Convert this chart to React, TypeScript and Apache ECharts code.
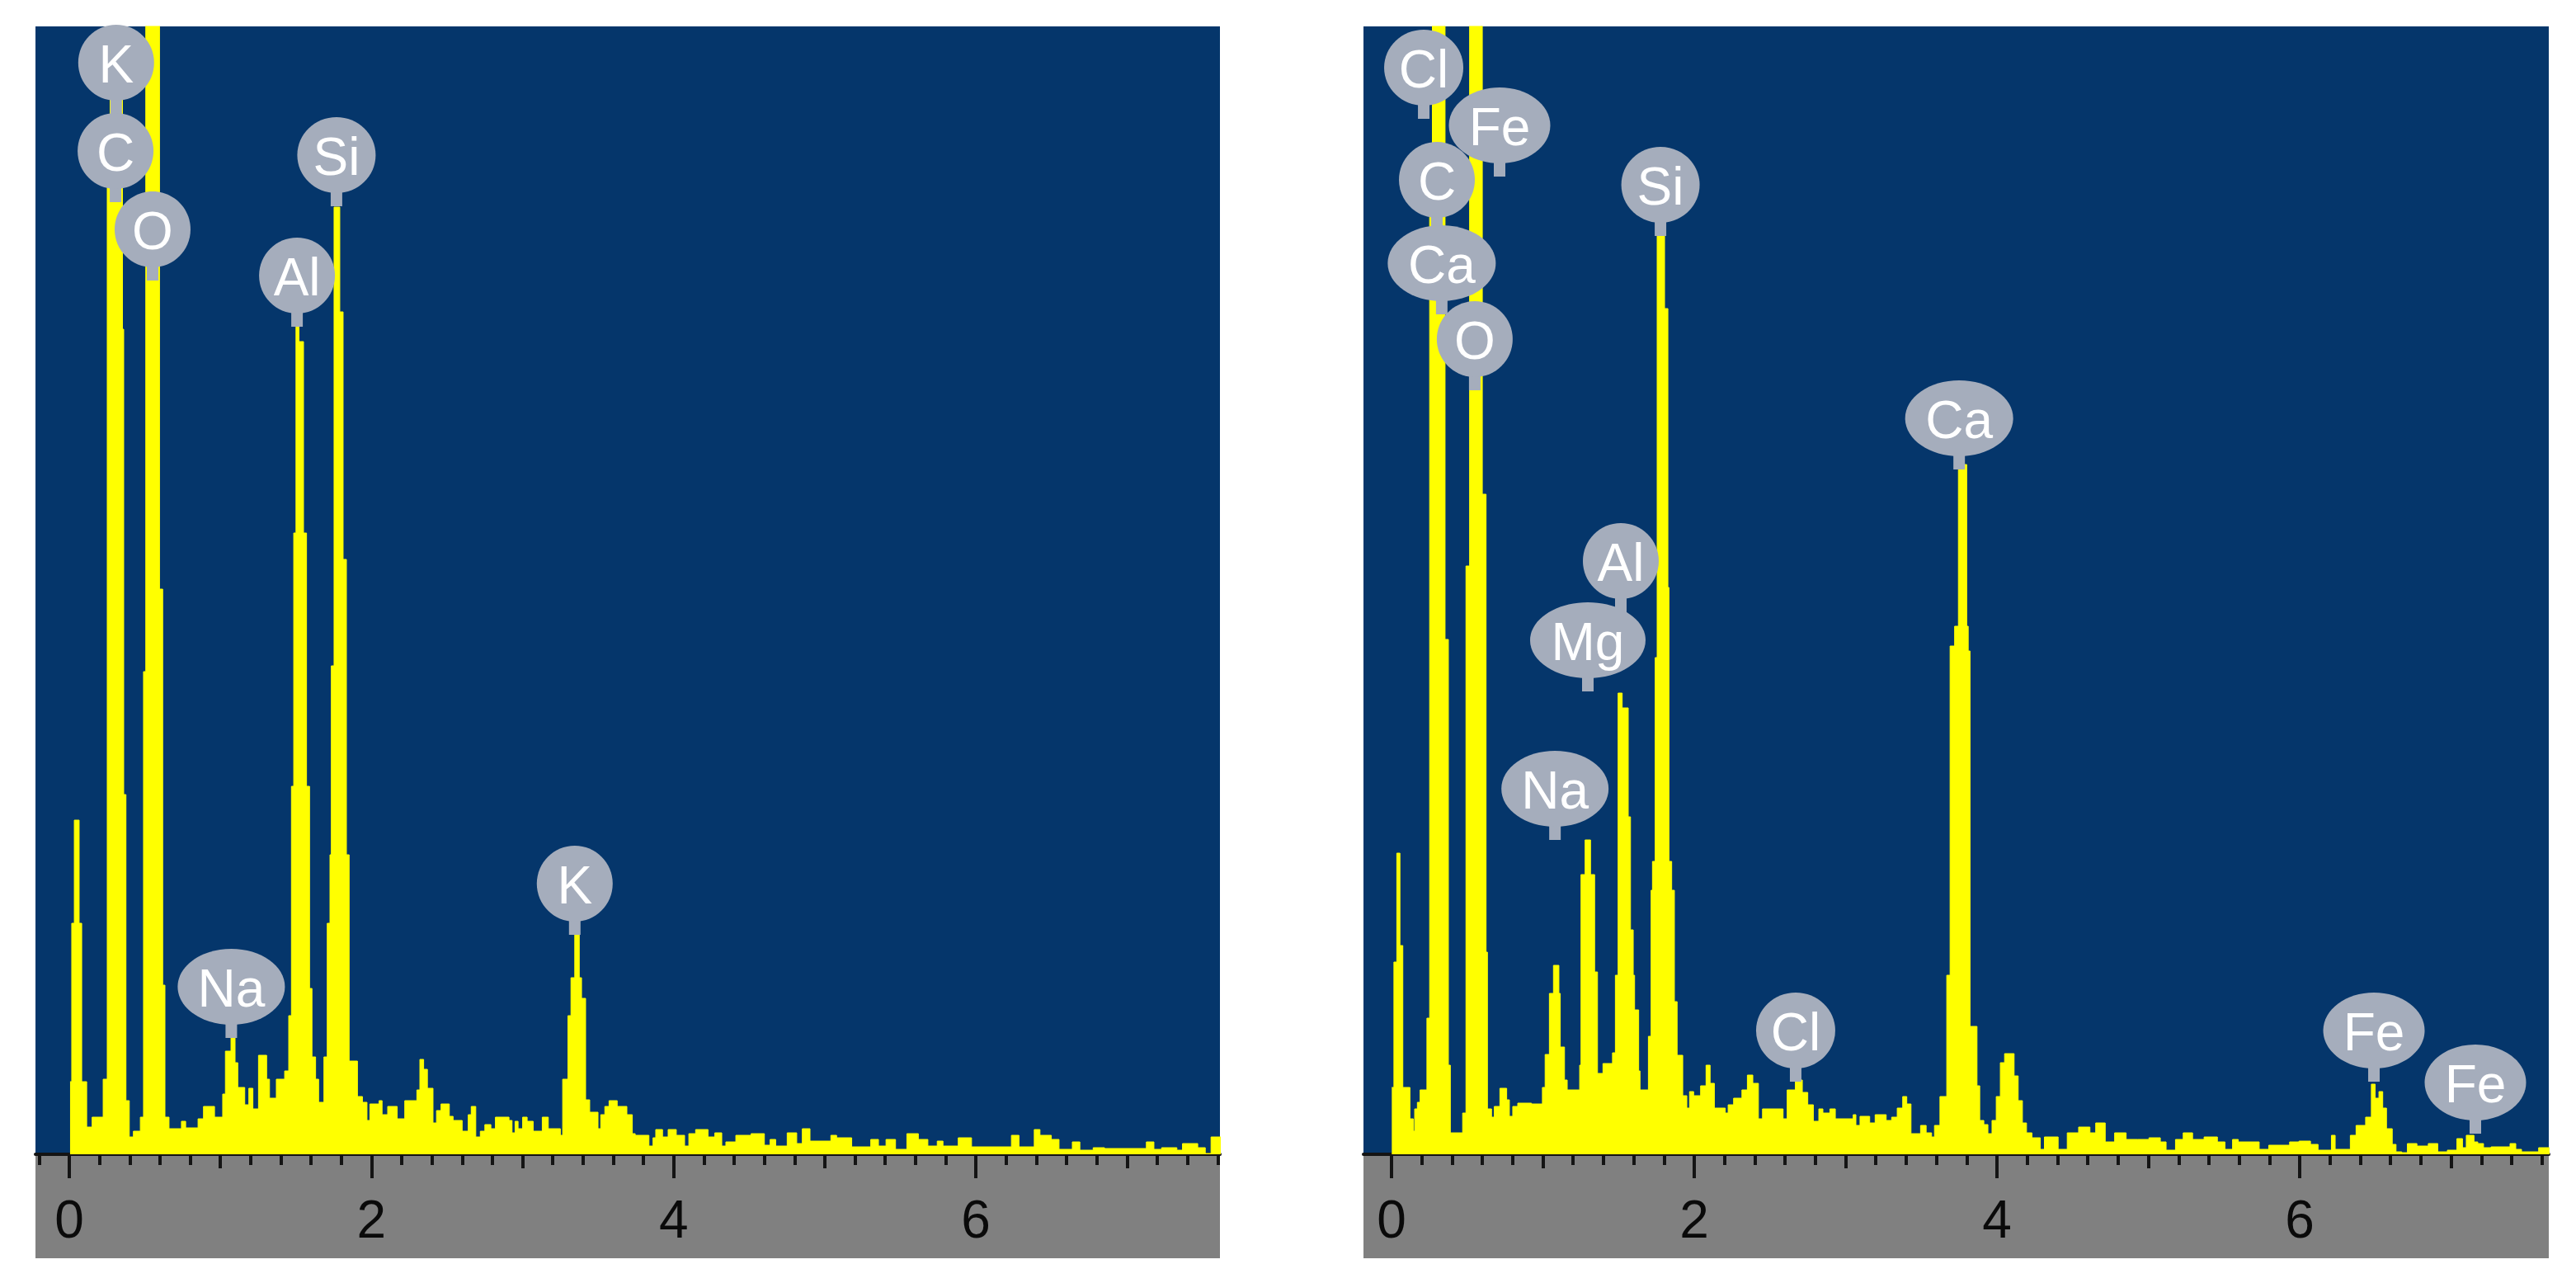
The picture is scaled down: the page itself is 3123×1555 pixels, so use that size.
import React, { useEffect, useRef } from "react";
import * as echarts from "echarts";

// [energy keV, intensity]. Each level holds until the next energy.
const spectrumLeft: number[][] = [
  [0.005,88],[0.016,280],[0.033,405],[0.065,280],[0.082,88],[0.115,33],[0.151,45],[0.224,91],[0.251,1200],[0.27,1500],[0.352,1000],[0.36,436],[0.375,65],[0.397,21],[0.424,28],[0.47,45],[0.491,585],[0.506,1500],[0.597,685],[0.618,205],[0.633,45],
  [0.66,31],[0.742,40],[0.77,32],[0.852,43],[0.888,58],[0.961,45],[1.015,73],[1.033,125],[1.07,143],[1.097,111],[1.115,81],[1.161,60],[1.188,80],[1.215,55],[1.252,120],[1.306,91],[1.325,68],[1.37,91],[1.425,101],[1.452,168],
  [1.47,446],[1.485,753],[1.5,1010],[1.52,985],[1.55,753],[1.57,446],[1.59,201],[1.606,118],[1.63,91],[1.65,63],[1.685,118],[1.707,280],[1.725,363],[1.734,592],[1.752,1148],[1.79,1021],[1.812,721],[1.834,363],[1.852,113],[1.907,70],[1.94,63],[1.97,41],[1.989,61],[2.05,65],[2.07,48],[2.107,58],
  [2.17,43],[2.22,65],[2.3,78],[2.32,115],[2.345,103],[2.37,80],[2.407,38],[2.43,53],[2.46,61],[2.515,46],[2.54,41],[2.6,28],[2.64,48],[2.66,58],[2.69,21],[2.72,28],[2.75,36],[2.79,31],[2.82,45],[2.91,41],[2.93,26],[2.95,40],[2.97,31],[3.0,45],[3.03,40],[3.07,28],[3.13,45],[3.17,31],[3.25,23],
  [3.265,91],[3.3,168],[3.32,214],[3.345,270],[3.375,214],[3.39,189],[3.417,66],[3.444,51],[3.499,31],[3.517,48],[3.544,58],[3.572,65],[3.626,58],[3.69,48],[3.726,25],[3.745,23],[3.836,10],[3.863,20],[3.881,30],[3.926,21],[3.963,30],[4.017,23],[4.072,10],[4.1,25],[4.145,30],[4.227,21],[4.272,26],[4.318,10],[4.345,15],
  [4.411,23],[4.512,25],[4.6,11],[4.638,18],[4.675,10],[4.751,26],[4.814,13],[4.851,31],[4.902,16],[5.04,23],[5.078,20],[5.178,9],[5.304,18],[5.355,10],[5.405,18],[5.468,6],[5.543,25],[5.619,18],[5.682,10],[5.744,16],[5.782,10],[5.883,20],[5.971,9],[6.235,23],[6.285,9],[6.386,30],[6.424,23],[6.499,18],[6.55,6],[6.638,15],[6.688,5],[6.776,8],[6.851,7],[7.128,15],[7.178,6],[7.229,8],[7.33,5],[7.367,13],[7.468,8],[7.518,1],[7.556,21],[7.65,21],
];
const spectrumRight: number[][] = [
  [0.002,81],[0.016,233],[0.035,365],[0.056,253],[0.075,81],[0.122,43],[0.144,28],[0.153,55],[0.171,63],[0.189,78],[0.234,165],[0.252,1200],[0.27,1500],[0.354,624],[0.376,108],[0.389,26],[0.47,50],[0.492,713],[0.516,1500],[0.6,800],[0.625,245],[0.634,55],
  [0.661,45],[0.679,58],[0.716,80],[0.761,66],[0.779,46],[0.801,58],[0.834,62],[0.925,61],[0.997,81],[1.015,121],[1.043,195],[1.07,229],[1.106,195],[1.115,130],[1.143,90],[1.161,78],[1.243,108],[1.252,339],[1.279,381],[1.315,339],[1.342,221],[1.361,98],[1.397,110],[1.46,123],[1.479,217],
  [1.497,559],[1.524,541],[1.564,409],[1.579,272],[1.597,217],[1.606,175],[1.633,101],[1.642,78],[1.697,143],[1.715,320],[1.724,355],[1.742,602],[1.755,1125],[1.804,1025],[1.826,687],[1.833,355],[1.851,320],[1.869,185],[1.887,120],[1.924,71],[1.951,56],[1.969,76],[1.996,71],[2.042,83],[2.078,108],[2.105,86],[2.133,56],
  [2.205,50],[2.224,60],[2.26,68],[2.315,78],[2.351,96],[2.387,86],[2.424,43],[2.451,55],[2.587,43],[2.614,78],[2.668,90],[2.714,75],[2.75,60],[2.787,40],[2.823,55],[2.85,50],[2.896,55],[2.932,43],[3.05,48],[3.068,35],[3.095,46],[3.159,38],[3.195,48],[3.268,41],[3.304,45],[3.341,56],[3.377,70],[3.404,61],[3.432,25],[3.495,35],[3.532,26],[3.568,21],[3.587,35],[3.623,70],
  [3.668,217],[3.69,616],[3.72,640],[3.745,836],[3.8,640],[3.81,610],[3.822,155],[3.868,83],[3.886,41],[3.913,36],[3.94,25],[3.967,41],[3.995,70],[4.022,111],[4.05,122],[4.113,95],[4.14,65],[4.168,38],[4.195,26],[4.231,20],[4.286,6],[4.313,21],[4.404,6],
  [4.464,26],[4.539,33],[4.614,26],[4.652,38],[4.715,15],[4.777,26],[4.853,18],[4.928,18],[5.004,20],[5.079,15],[5.117,5],[5.179,18],[5.23,26],[5.292,18],[5.368,21],[5.456,15],[5.506,6],[5.556,18],[5.594,15],[5.732,6],[5.795,11],[5.933,15],[5.995,16],[6.071,12],[6.121,5],[6.209,23],[6.234,6],[6.334,23],[6.372,35],[6.435,45],[6.473,85],[6.498,68],[6.523,76],[6.548,56],[6.573,31],[6.611,12],[6.636,3],[6.674,2],[6.711,13],[6.774,10],[6.849,13],[6.912,3],[6.975,5],[7.038,19],[7.075,8],[7.1,23],[7.151,15],[7.176,13],[7.214,8],[7.264,9],[7.389,13],[7.427,6],[7.465,3],[7.578,8],[7.65,8],
];

// Element labels: name, line energy (keV), height of the pin's tip.
const labelNamesLeft = ["K", "C", "O", "Al", "Si", "Na", "K"];
const labelEnergyLeft = [0.31, 0.306, 0.551, 1.507, 1.768, 1.072, 3.345];
const labelHeightLeft = [1261, 1154, 1059, 1003, 1149, 141, 266];
const labelNamesRight = ["Cl", "Fe", "C", "Ca", "O", "Si", "Ca", "Al", "Mg", "Na", "Cl", "Fe", "Fe"];
const labelEnergyRight = [0.213, 0.714, 0.3, 0.332, 0.55, 1.777, 3.75, 1.515, 1.297, 1.08, 2.67, 6.49, 7.16];
const labelHeightRight = [1255, 1185, 1119, 1018, 926, 1113, 830, 657, 561, 381, 88, 88, 25];

const majorTicks = [0, 2, 4, 6];
const midTicks = [1, 3, 5, 7];
const minorTicks = [-0.2, 0.2, 0.4, 0.6, 0.8, 1.2, 1.4, 1.6, 1.8, 2.2, 2.4, 2.6, 2.8, 3.2, 3.4, 3.6, 3.8, 4.2, 4.4, 4.6, 4.8, 5.2, 5.4, 5.6, 5.8, 6.2, 6.4, 6.6, 6.8, 7.2, 7.4, 7.6];

const NAVY = "#05366B";
const YELLOW = "#FFFF00";
const GREY = "#808080";
const PIN = "#A5ADBC";
const INK = "#141414";
const FONT = "'Liberation Sans', Arial, sans-serif";

const W = 3123;
const H = 1555;
const TOP = 32;
const AXIS_Y = 1399;
const BAND_BOTTOM = 1525;
const panels = [
  { left: 43, right: 1479, min: -0.224, max: 7.615, spectrum: spectrumLeft, names: labelNamesLeft, le: labelEnergyLeft, lh: labelHeightLeft },
  { left: 1653, right: 3090, min: -0.185, max: 7.645, spectrum: spectrumRight, names: labelNamesRight, le: labelEnergyRight, lh: labelHeightRight },
];

const pinWidth: Record<string, number> = { K: 92, C: 92, O: 92, Al: 92, Si: 95, Cl: 96, Na: 130, Fe: 123, Ca: 131, Mg: 140 };

function makePinRenderer(names: string[]) {
  return (params: any, api: any) => {
    const tip = api.coord([api.value(0), api.value(1)]);
    const name = names[params.dataIndex];
    const rx = (pinWidth[name] || 92) / 2;
    const cy = tip[1] - 62;
    const fill = PIN;
    return {
      type: "group",
      children: [
        { type: "rect", shape: { x: tip[0] - 7, y: cy + 30, width: 14, height: 32 }, style: { fill } },
        { type: "ellipse", shape: { cx: tip[0], cy, rx, ry: 46 }, style: { fill } },
        {
          type: "text",
          style: { text: name, x: tip[0], y: cy + 2, align: "center", verticalAlign: "middle", fontSize: 64, fontFamily: FONT, fill: "#FFFFFF" },
        },
      ],
    };
  };
}

function buildOption() {
  const grid: any[] = [];
  const xAxis: any[] = [];
  const yAxis: any[] = [];
  const series: any[] = [];
  const graphic: any[] = [];

  panels.forEach((p, i) => {
    grid.push({
      left: p.left,
      width: p.right - p.left,
      top: TOP,
      height: AXIS_Y - TOP,
      show: true,
      backgroundColor: NAVY,
      borderWidth: 0,
    });
    graphic.push({
      type: "rect",
      z: -1,
      shape: { x: p.left, y: AXIS_Y, width: p.right - p.left, height: BAND_BOTTOM - AXIS_Y },
      style: { fill: GREY },
    });
    const base = { type: "value", gridIndex: i, min: p.min, max: p.max, position: "bottom", splitLine: { show: false } };
    xAxis.push({
      ...base,
      axisLine: { show: true, onZero: false, lineStyle: { color: INK, width: 4 } },
      axisTick: { show: true, customValues: majorTicks, length: 29, lineStyle: { color: INK, width: 4 } },
      axisLabel: { show: true, customValues: majorTicks, color: "#0a0a0a", fontSize: 64, fontFamily: FONT, margin: 47, formatter: (v: number) => String(v), showMinLabel: true, showMaxLabel: true },
    });
    xAxis.push({
      ...base,
      axisLine: { show: false, onZero: false },
      axisTick: { show: true, customValues: midTicks, length: 17, lineStyle: { color: INK, width: 4 } },
      axisLabel: { show: false },
    });
    xAxis.push({
      ...base,
      axisLine: { show: false, onZero: false },
      axisTick: { show: true, customValues: minorTicks, length: 13, lineStyle: { color: INK, width: 4 } },
      axisLabel: { show: false },
    });
    yAxis.push({ type: "value", gridIndex: i, min: 0, max: AXIS_Y - TOP, show: false, splitLine: { show: false } });

    series.push({
      type: "line",
      xAxisIndex: i * 3,
      yAxisIndex: i,
      step: "end",
      showSymbol: false,
      silent: true,
      clip: true,
      lineStyle: { color: YELLOW, width: 1 },
      itemStyle: { color: YELLOW },
      areaStyle: { color: YELLOW, opacity: 1 },
      data: p.spectrum,
    });
    series.push({
      type: "custom",
      xAxisIndex: i * 3,
      yAxisIndex: i,
      clip: false,
      silent: true,
      z: 5,
      renderItem: makePinRenderer(p.names),
      encode: { x: 0, y: 1 },
      data: p.le.map((e, k) => [e, p.lh[k]]),
    });
  });

  return {
    animation: false,
    backgroundColor: "#FFFFFF",
    tooltip: { show: false },
    legend: { show: false },
    grid,
    xAxis,
    yAxis,
    series,
    graphic,
  };
}

export default function App() {
  const ref = useRef<HTMLDivElement>(null);
  useEffect(() => {
    document.body.style.margin = "0";
    const chart = echarts.init(ref.current as HTMLDivElement, undefined, { renderer: "svg", width: W, height: H });
    chart.setOption(buildOption() as any);
    return () => chart.dispose();
  }, []);
  return <div ref={ref} style={{ width: W, height: H, position: "absolute", left: 0, top: 0 }} />;
}
